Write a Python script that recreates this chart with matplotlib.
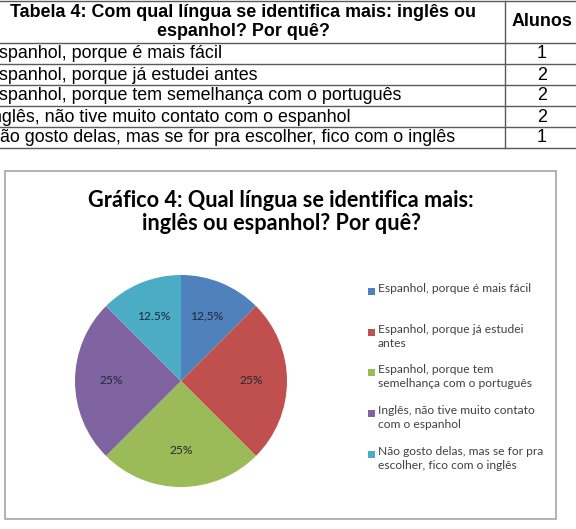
import matplotlib
matplotlib.use('Agg')
import matplotlib.pyplot as plt
from matplotlib.patches import Rectangle

# table data
table_title = 'Tabela 4: Com qual língua se identifica mais: inglês ou\nespanhol? Por quê?'
table_col2 = 'Alunos'
answers = ['Espanhol, porque é mais fácil',
           'Espanhol, porque já estudei antes',
           'Espanhol, porque tem semelhança com o português',
           'Inglês, não tive muito contato com o espanhol',
           'Não gosto delas, mas se for pra escolher, fico com o inglês']
alunos = [1, 2, 2, 2, 1]

# chart data
chart_title = 'Gráfico 4: Qual língua se identifica mais:\ninglês ou espanhol? Por quê?'
legend_labels = ['Espanhol, porque é mais fácil',
                 'Espanhol, porque já estudei\nantes',
                 'Espanhol, porque tem\nsemelhança com o português',
                 'Inglês, não tive muito contato\ncom o espanhol',
                 'Não gosto delas, mas se for pra\nescolher, fico com o inglês']
pct_labels = ['12,5%', '25%', '25%', '25%', '12.5%']
colors = ['#4F81BD', '#C0504D', '#9BBB59', '#8064A2', '#4BACC6']

W, H = 576, 529
fig = plt.figure(figsize=(W / 100, H / 100), dpi=100)
rend = fig.canvas.get_renderer()


def fx(px):
    return px / W


def fy(py):
    return 1 - py / H


def fit(t, target):
    # scale font so the text is about as wide as in the reference
    w = t.get_window_extent(renderer=rend).width
    size = t.get_fontsize() * target / w
    t.set_fontsize(size)
    return size


# ---- table ----
line_c = '#5a5a5a'
row_lines = [1, 43, 64, 85, 106, 127, 148]
for y in row_lines:
    fig.add_artist(plt.Line2D([0, 1], [fy(y), fy(y)], color=line_c, lw=1.0))
fig.add_artist(plt.Line2D([fx(505), fx(505)], [fy(1), fy(148)], color=line_c, lw=1.0))

tfont = ['Liberation Sans', 'DejaVu Sans']
th = fig.text(fx(243), fy(22), table_title, ha='center', va='center', fontsize=10,
              fontweight='bold', family=tfont, linespacing=1.2)
hsize = fit(th, 463)
fig.text(fx(542), fy(22), table_col2, ha='center', va='center', fontsize=hsize,
         fontweight='bold', family=tfont)
rows = []
for i in range(len(answers)):
    yc = (row_lines[i + 1] + row_lines[i + 2]) / 2 + 0.5
    rows.append(fig.text(fx(-13), fy(yc), answers[i], ha='left', va='center',
                         fontsize=10, family=tfont))
bsize = fit(rows[4], 469)
for i in range(len(answers)):
    yc = (row_lines[i + 1] + row_lines[i + 2]) / 2 + 0.5
    rows[i].set_fontsize(bsize)
    fig.text(fx(542), fy(yc), str(alunos[i]), ha='center', va='center', fontsize=bsize,
             family=tfont)

# ---- chart box ----
fig.add_artist(Rectangle((fx(5), fy(519)), fx(551), 348 / H, transform=fig.transFigure,
                         fill=False, edgecolor='#a6a6a6', lw=1.2))

cfont = ['Lato', 'DejaVu Sans']
ct = fig.text(fx(281), fy(212), chart_title, ha='center', va='center', fontsize=14,
              fontweight='bold', family=cfont, linespacing=1.12)
fit(ct, 388)

# pie
cx, cy, r = 181, 381, 106
ax = fig.add_axes([fx(cx - r), fy(cy + r), 2 * r / W, 2 * r / H])
wedges, texts = ax.pie(alunos, labels=pct_labels, colors=colors, startangle=90,
                       counterclock=False, labeldistance=0.66,
                       wedgeprops=dict(linewidth=0),
                       textprops=dict(fontsize=9, family=cfont, color='#1f2a36'))
ax.set_xlim(-1, 1)
ax.set_ylim(-1, 1)
ax.set_aspect('equal')
psize = fit(texts[0], 33)
for t in texts:
    t.set_ha('center')
    t.set_va('center')
    t.set_fontsize(psize)

# legend
leg_y = [291, 332, 372, 413, 454]
legs = []
for i in range(len(legend_labels)):
    fig.add_artist(Rectangle((fx(368), fy(leg_y[i] + 3.5)), 7 / W, 7 / H,
                             transform=fig.transFigure,
                             facecolor=wedges[i].get_facecolor(), edgecolor='none'))
    legs.append(fig.text(fx(378), fy(leg_y[i] - 8), legend_labels[i], ha='left', va='top',
                         fontsize=8, family=cfont, color='#404040', linespacing=1.3))
lsize = fit(legs[0], 153)
for t in legs:
    t.set_fontsize(lsize)

fig.savefig('out.png', dpi=100)
